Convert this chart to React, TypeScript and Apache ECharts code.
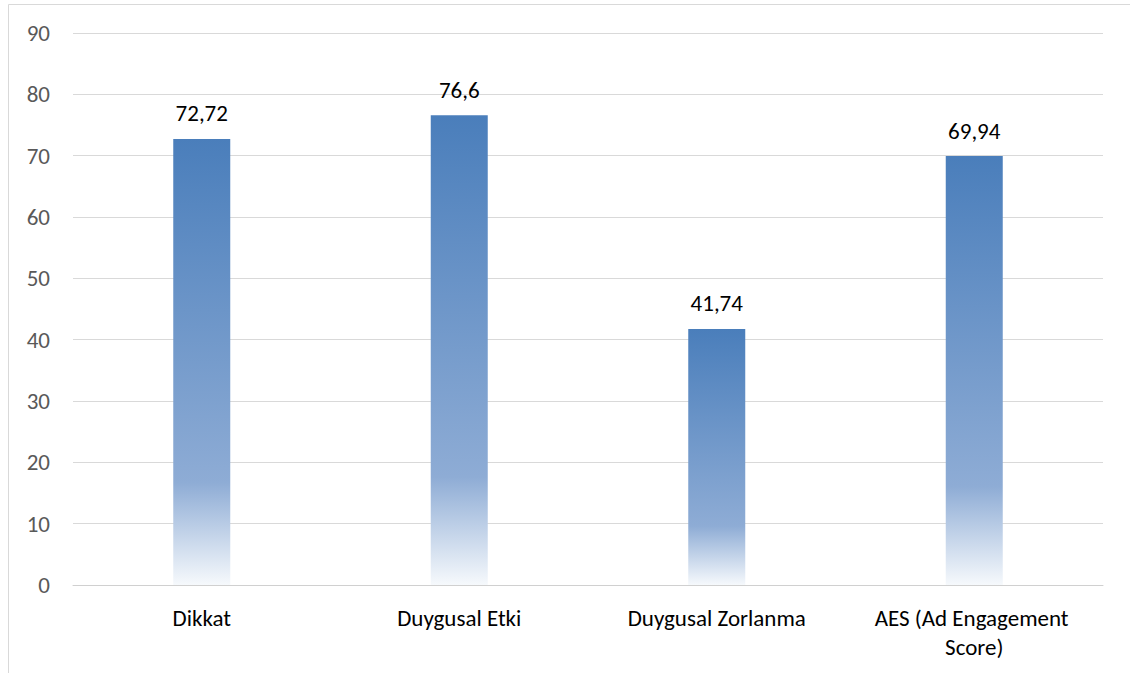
import React, { useEffect, useRef } from "react";
import * as echarts from "echarts";

const categories = ["Dikkat", "Duygusal Etki", "Duygusal Zorlanma", "AES (Ad Engagement Score)"];
const scores = [72.72, 76.6, 41.74, 69.94];
const yTicks = { min: 0, max: 90, interval: 10 };

const FONT = "Carlito, Lato, 'Noto Sans', sans-serif";
const FONT_SIZE = 23;

export default function App() {
  const ref = useRef<HTMLDivElement>(null);

  useEffect(() => {
    if (!ref.current) return;
    const chart = echarts.init(ref.current, undefined, { renderer: "svg" });
    const barFill = new echarts.graphic.LinearGradient(0, 0, 0, 1, [
      { offset: 0, color: "#4a7ebb" },
      { offset: 0.77, color: "#8eacd5" },
      { offset: 1, color: "#f6f9fc" },
    ]);
    chart.setOption({
      animation: false,
      backgroundColor: "#ffffff",
      textStyle: { fontFamily: FONT },
      graphic: [
        {
          type: "rect",
          silent: true,
          shape: { x: 8.5, y: 4.5, width: 1300, height: 900 },
          style: { fill: "none", stroke: "#d9d9d9", lineWidth: 1 },
        },
      ],
      grid: { left: 73, right: 27, top: 33, bottom: 88 },
      xAxis: {
        type: "category",
        data: categories,
        axisTick: { show: false },
        axisLine: { lineStyle: { color: "#d0d0d0", width: 1 } },
        axisLabel: {
          color: "#000000",
          fontSize: FONT_SIZE,
          fontFamily: FONT,
          margin: 18,
          lineHeight: 29,
          width: 230,
          overflow: "break",
          interval: 0,
        },
      },
      yAxis: {
        type: "value",
        min: yTicks.min,
        max: yTicks.max,
        interval: yTicks.interval,
        axisLine: { show: false },
        axisTick: { show: false },
        splitLine: { lineStyle: { color: "#d9d9d9", width: 1 } },
        axisLabel: {
          color: "#595959",
          fontSize: FONT_SIZE,
          fontFamily: FONT,
          margin: 23,
        },
      },
      series: [
        {
          type: "bar",
          data: scores,
          barWidth: 57,
          itemStyle: { color: barFill },
          label: {
            show: true,
            position: "top",
            distance: 14,
            color: "#000000",
            fontSize: FONT_SIZE,
            fontFamily: FONT,
            formatter: (p: any) => String(p.value).replace(".", ","),
          },
        },
      ],
    });
    return () => chart.dispose();
  }, []);

  return (
    <div
      ref={ref}
      style={{ position: "fixed", left: 0, top: 0, width: 1130, height: 673 }}
    />
  );
}
